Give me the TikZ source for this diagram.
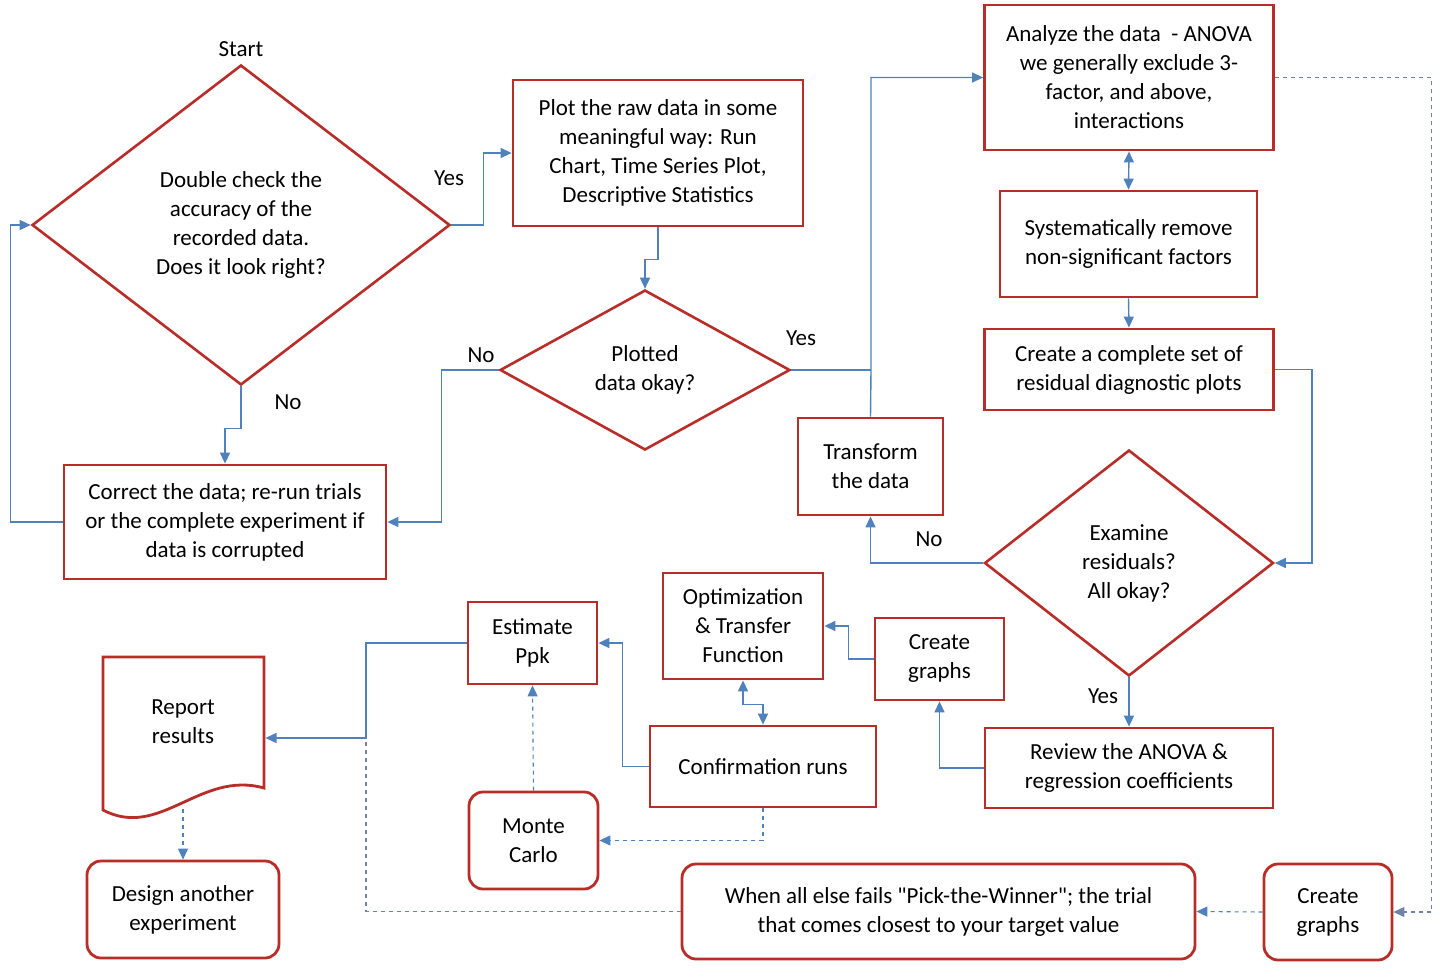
\documentclass[tikz,border=0pt]{standalone}
\usepackage{fontspec}
\setmainfont{Carlito}[Ligatures=TeXOff]
\usetikzlibrary{arrows.meta,shapes.geometric}
\definecolor{boxred}{RGB}{185,45,40}
\definecolor{lineblue}{RGB}{79,129,189}
\definecolor{dashblue}{RGB}{110,130,170}
\tikzset{
  box/.style={draw=boxred, line width=2.8pt, inner sep=0pt, align=center, fill=white},
  rbox/.style={box, rounded corners=14pt},
  dia/.style={draw=boxred, line width=2.6pt, shape=diamond, inner sep=0pt, align=center},
  conn/.style={draw=lineblue, line width=1.4pt},
  arr/.style={conn, -{Triangle[length=11pt,width=10pt]}},
  darr/.style={conn, {Triangle[length=11pt,width=10pt]}-{Triangle[length=11pt,width=10pt]}},
  dsh/.style={draw=dashblue, line width=1.1pt, dash pattern=on 4pt off 4pt},
  lbl/.style={inner sep=0pt, align=center}
}
\begin{document}
\begin{tikzpicture}[x=1pt,y=-1pt,font=\fontsize{23}{29}\selectfont]
\useasboundingbox (0,0) rectangle (1454,970);
\fill[white] (0,0) rectangle (1454,970);
% diamonds
\node[dia, minimum width=418pt, minimum height=320pt] (check) at (241,225) {Double check the\\accuracy of the\\recorded data.\\Does it look right?};
\node[dia, minimum width=290pt, minimum height=160pt] (plotted) at (645,370) {Plotted\\data okay?};
\node[dia, minimum width=289pt, minimum height=226pt] (exam) at (1129,563) {Examine\\residuals?\\All okay?};
% boxes
\node[box, minimum width=290pt, minimum height=146pt] (plot) at (658,153) {Plot the raw data in some\\meaningful way: Run\\Chart, Time Series Plot,\\Descriptive Statistics};
\node[box, minimum width=322pt, minimum height=114pt] (correct) at (225,522) {Correct the data; re-run trials\\or the complete experiment if\\data is corrupted};
\node[box, minimum width=289pt, minimum height=145pt] (analyze) at (1129,77.5) {Analyze the data \ - ANOVA\\we generally exclude 3-\\factor, and above,\\interactions};
\node[box, minimum width=257pt, minimum height=106pt] (sys) at (1128.5,244) {Systematically remove\\non-significant factors};
\node[box, minimum width=289pt, minimum height=81pt] (cc) at (1129,369.5) {Create a complete set of\\residual diagnostic plots};
\node[box, minimum width=145pt, minimum height=97pt] (transform) at (870.5,466.5) {Transform\\the data};
\node[box, minimum width=288pt, minimum height=80pt] (review) at (1129,768) {Review the ANOVA \&\\regression coefficients};
\node[box, minimum width=129pt, minimum height=82pt] (graphsA) at (939.5,659) {Create\\graphs};
\node[box, minimum width=160pt, minimum height=106pt] (opt) at (743,626) {Optimization\\\& Transfer\\Function};
\node[box, minimum width=226pt, minimum height=81pt] (conf) at (763,766.5) {Confirmation runs};
\node[box, minimum width=129pt, minimum height=82pt] (est) at (532.5,643) {Estimate\\Ppk};
\node[rbox, minimum width=129pt, minimum height=97pt] (monte) at (533.5,840.5) {Monte\\Carlo};
\node[rbox, minimum width=192pt, minimum height=97pt] (design) at (183,909.5) {Design another\\experiment};
\node[rbox, minimum width=513pt, minimum height=95pt] (pick) at (938.5,911.5) {When all else fails "Pick-the-Winner"; the trial\\that comes closest to your target value};
\node[rbox, minimum width=128pt, minimum height=96pt] (graphsB) at (1328,912) {Create\\graphs};
% report document shape
\draw[boxred, line width=2.8pt, fill=white, line join=miter] (103,810) -- (103,657) -- (264,657) -- (264,788) .. controls (200,770) and (160,840) .. (103,810) -- cycle;
\node[lbl] (report) at (183,722) {Report\\results};
\coordinate (reportR) at (265.5,738);
\coordinate (reportB) at (183,809);
% labels
\node[lbl] (start) at (241,49) {Start};
\node[lbl] (y1) at (449,178) {Yes};
\node[lbl] (n1) at (288,402) {No};
\node[lbl] (n2) at (481,355) {No};
\node[lbl] (y2) at (801,338) {Yes};
\node[lbl] (n3) at (929,539) {No};
\node[lbl] (y3) at (1103,696) {Yes};
% junctions
\coordinate (j1) at (871,370);
\coordinate (j2) at (366,738);
% connectors
\draw[arr] (check.east) -- ++(32,0) |- (plot.west);
\draw[arr] (plot.south) -- ++(0,32) -| (plotted.north);
\draw[arr] (plotted.west) -- ++(-57,0) |- (correct.east);
\draw[conn] (plotted.east) -- (j1);
\draw[arr] (transform.north) -- (j1) |- (analyze.west);
\draw[arr] (check.south) -- ++(0,42) -| (correct.north);
\draw[arr] (correct.west) -- ++(-52,0) |- (check.west);
\draw[darr] (analyze.south) -- (sys.north);
\draw[arr] (sys.south) -- (cc.north);
\draw[arr] (cc.east) -- ++(37,0) |- (exam.east);
\draw[arr] (exam.west) -| (transform.south);
\draw[arr] (exam.south) -- (review.north);
\draw[arr] (review.west) -| (graphsA.south);
\draw[arr] (graphsA.west) -- ++(-25,0) |- (opt.east);
\draw[darr] (opt.south) -- ++(0,24) -| (conf.north);
\draw[arr] (conf.west) -- ++(-26,0) |- (est.east);
\draw[arr] (est.west) -| (j2) -- (reportR);
\draw[conn, dsh, -{Triangle[length=11pt,width=10pt]}, lineblue] (conf.south) |- (monte.east);
\draw[conn, dsh, -{Triangle[length=11pt,width=10pt]}, lineblue] (monte.north) -- (est.south);
\draw[dsh] (pick.west) -| (j2);
\draw[conn, dsh, -{Triangle[length=11pt,width=10pt]}, lineblue] (reportB) -- (design.north);
\draw[conn, dsh, -{Triangle[length=11pt,width=10pt]}, lineblue] (graphsB.west) -- (pick.east);
\draw[dsh, -{Triangle[length=11pt,width=10pt]}] (analyze.east) -- ++(157,0) |- (graphsB.east);
\end{tikzpicture}
\end{document}
